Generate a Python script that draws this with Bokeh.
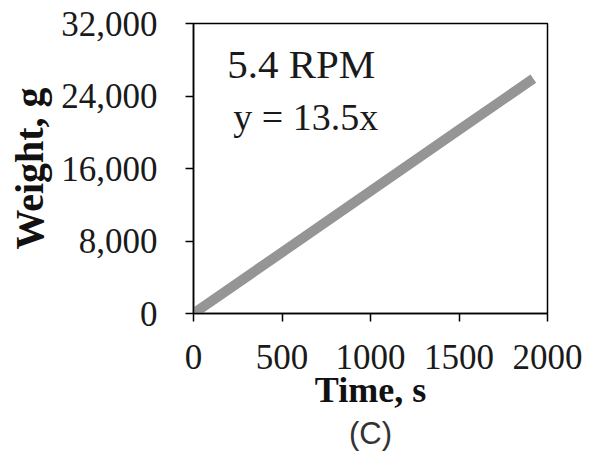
from bokeh.plotting import figure
from bokeh.models import Label, Title, NumeralTickFormatter, FixedTicker, Range1d
from bokeh.embed import file_html
from bokeh.resources import INLINE

# Weight gain over time at 5.4 RPM (linear fit y = 13.5x)
time_s = [0, 500, 1000, 1500, 1920]
weight_g = [0, 6750, 13500, 20250, 25920]

x_ticks = [0, 500, 1000, 1500, 2000]
y_ticks = [0, 8000, 16000, 24000, 32000]

speed_label = "5.4 RPM"
fit_label = "y = 13.5x"

SERIF = "Liberation Serif"

p = figure(width=592, height=457, output_backend="svg", toolbar_location=None,
           x_range=Range1d(0, 2000), y_range=Range1d(0, 32000),
           min_border_left=193, min_border_right=45,
           min_border_top=23, min_border_bottom=144)

p.line(time_s, weight_g, line_color="#959595", line_width=10)

p.add_layout(Label(x=190, y=27500, text=speed_label, text_font=SERIF,
                   text_font_size="41px", text_color="#1a1a1a",
                   text_baseline="alphabetic"))
p.add_layout(Label(x=225, y=21700, text=fit_label, text_font=SERIF,
                   text_font_size="38px", text_color="#1a1a1a",
                   text_baseline="alphabetic"))

p.xgrid.visible = False
p.ygrid.visible = False
p.background_fill_color = "white"
p.border_fill_color = "white"
p.outline_line_color = "black"
p.outline_line_width = 1.5

for ax in (p.xaxis[0], p.yaxis[0]):
    ax.axis_line_color = "black"
    ax.axis_line_width = 1.5
    ax.major_tick_in = 0
    ax.major_tick_out = 8
    ax.major_tick_line_color = "black"
    ax.major_tick_line_width = 1.5
    ax.minor_tick_line_color = None
    ax.major_label_text_font = SERIF
    ax.major_label_text_font_size = "35px"
    ax.major_label_text_color = "#1a1a1a"
    ax.axis_label_text_font = SERIF
    ax.axis_label_text_font_style = "bold"
    ax.axis_label_text_color = "#111111"

p.xaxis.ticker = FixedTicker(ticks=x_ticks)
p.yaxis.ticker = FixedTicker(ticks=y_ticks)
p.yaxis.formatter = NumeralTickFormatter(format="0,0")
p.xaxis.formatter = NumeralTickFormatter(format="0")

p.xaxis.axis_label = "Time, s"
p.xaxis.axis_label_text_font_size = "36px"
p.xaxis.major_label_standoff = 23
p.xaxis.axis_label_standoff = -2

p.yaxis.axis_label = "Weight, g"
p.yaxis.axis_label_text_font_size = "40px"
p.yaxis.major_label_standoff = 28
p.yaxis.axis_label_standoff = 6

p.add_layout(Title(text="(C)", align="center", text_font="Liberation Sans",
                   text_font_size="31px", text_font_style="normal",
                   text_color="#333333", standoff=2), "below")

open("out.html", "w").write(file_html(p, INLINE))
